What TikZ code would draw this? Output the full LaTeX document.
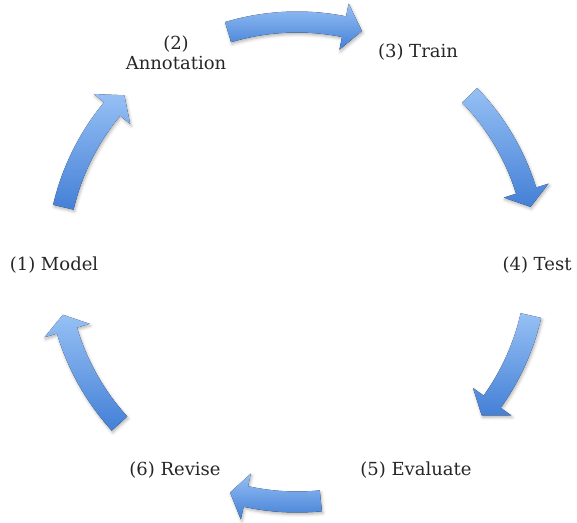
\documentclass[tikz,border=0pt]{standalone}
\usepackage{fontspec}
\setmainfont{DejaVu Serif}
\usetikzlibrary{calc,shadows.blur}
\definecolor{arrowlight}{RGB}{150,192,245}
\definecolor{arrowdark}{RGB}{68,128,214}
\definecolor{labelgray}{RGB}{38,38,38}
% curved block arrow on the cycle: #1 tail angle, #2 head base angle, #3 tip angle
\newcommand\cyclearrow[3]{%
  \fill[cyclefill]
    ($(C)+(#1:\Rout)$) arc[start angle=#1, end angle=#2, radius=\Rout]
    -- ($(C)+(#2:\Rhout)$)
    -- ($(C)+(#3:\Rmid)$)
    -- ($(C)+(#2:\Rhin)$)
    -- ($(C)+(#2:\Rin)$)
    arc[start angle=#2, end angle=#1, radius=\Rin]
    -- cycle;}
\begin{document}
\begin{tikzpicture}[x=1pt,y=1pt,
  cyclefill/.style={top color=arrowlight, bottom color=arrowdark,
    blur shadow={shadow xshift=1pt, shadow yshift=-2pt,
      shadow blur radius=3pt, shadow opacity=30}},
  steplabel/.style={text=labelgray, font=\fontsize{18}{20.5}\selectfont,
    align=center, inner sep=0pt}]
\useasboundingbox (0,0) rectangle (577,522);
\def\Rmid{240}\def\Rout{250.5}\def\Rin{229.5}\def\Rhout{263.5}\def\Rhin{216.5}
\coordinate (C) at (297,260);

\cyclearrow{166.8}{140.4}{136.0}
\cyclearrow{106.7}{78.7}{74.3}
\cyclearrow{44}{17.3}{13.3}
\cyclearrow{-12.9}{-35.6}{-39.7}
\cyclearrow{-84.3}{-102.3}{-106.2}
\cyclearrow{222.3}{196.6}{192.7}

\node[steplabel] (model) at (54,257) {(1) Model};
\node[steplabel] (annot) at (176,469) {(2)\\Annotation};
\node[steplabel] (train) at (418,470) {(3) Train};
\node[steplabel] (test) at (537,257) {(4) Test};
\node[steplabel] (eval) at (416,52) {(5) Evaluate};
\node[steplabel] (revise) at (175,52) {(6) Revise};
\end{tikzpicture}
\end{document}
